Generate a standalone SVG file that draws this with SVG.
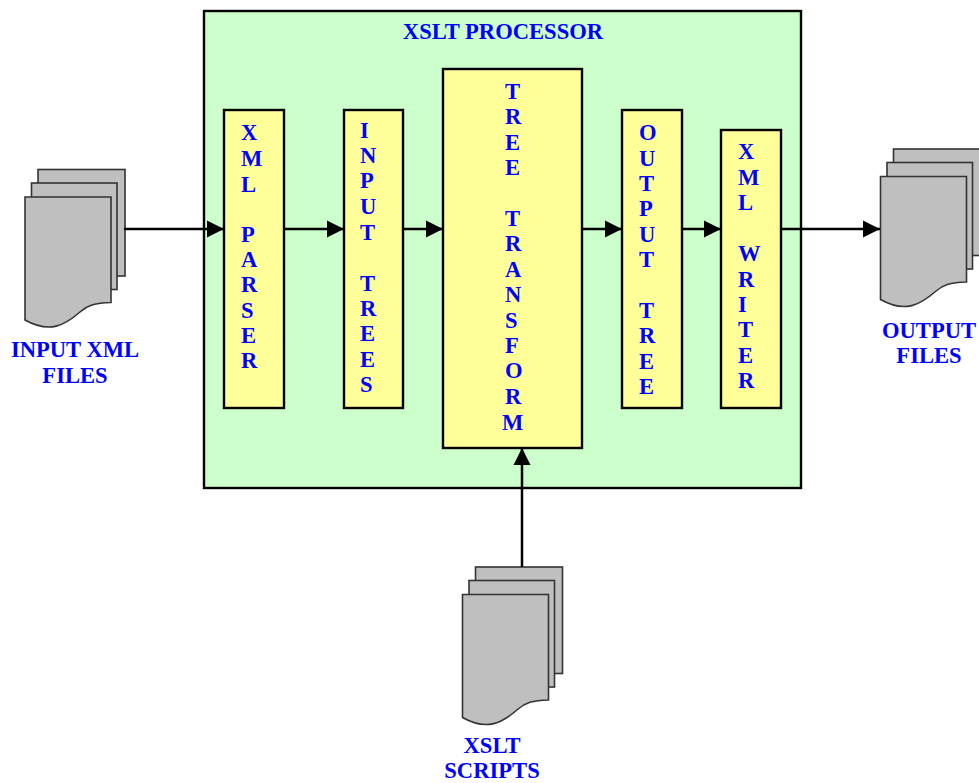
<svg xmlns="http://www.w3.org/2000/svg" width="979" height="783" viewBox="0 0 979 783">
<style>
.doc{fill:#bfbfbf;stroke:#333;stroke-width:1.6}
.box{fill:#ffff99;stroke:#000;stroke-width:2.4}
.t{font-family:"Liberation Serif",serif;font-weight:bold;font-size:22.6px;fill:#0000ff}
.m{text-anchor:middle}
.c{fill:none;stroke:#000;stroke-width:2.5}
</style>
<defs>
<marker id="a" markerUnits="userSpaceOnUse" markerWidth="18" markerHeight="18" refX="17" refY="9" orient="auto"><path d="M0 0.500L17 9L0 17.500Z" fill="#000"/></marker>
<g id="stack">
<rect class="doc" x="13" y="-27.500" width="87" height="106.500"/>
<rect class="doc" x="6.500" y="-14" width="85.500" height="106.500"/>
<path class="doc" d="M0 0H86V105.500C70 106 63 108 55 115C40 128 25 137 0 123Z"/>
</g>
</defs>
<g id="processor"><rect x="204" y="11" width="597" height="477" fill="#ccffcc" stroke="#000" stroke-width="2.4"/><text class="t m" x="503" y="39">XSLT PROCESSOR</text></g>
<g id="xml-parser"><rect class="box" x="224" y="110" width="60" height="298"/>
<text class="t"><tspan x="241" y="140">X</tspan><tspan x="241" y="166">M</tspan><tspan x="241" y="192">L</tspan><tspan x="241" y="242">P</tspan><tspan x="241" y="267">A</tspan><tspan x="241" y="292">R</tspan><tspan x="241" y="318">S</tspan><tspan x="241" y="343">E</tspan><tspan x="241" y="368">R</tspan></text></g>
<g id="input-trees"><rect class="box" x="344" y="110" width="59" height="298"/>
<text class="t"><tspan x="360" y="138">I</tspan><tspan x="360" y="163">N</tspan><tspan x="360" y="188">P</tspan><tspan x="360" y="214">U</tspan><tspan x="360" y="240">T</tspan><tspan x="360" y="291">T</tspan><tspan x="360" y="316">R</tspan><tspan x="360" y="341">E</tspan><tspan x="360" y="367">E</tspan><tspan x="360" y="392">S</tspan></text></g>
<g id="tree-transform"><rect class="box" x="443" y="69" width="139" height="379"/>
<text class="t"><tspan x="505" y="99">T</tspan><tspan x="505" y="124">R</tspan><tspan x="505" y="150">E</tspan><tspan x="505" y="175">E</tspan><tspan x="505" y="226">T</tspan><tspan x="505" y="251">R</tspan><tspan x="505" y="277">A</tspan><tspan x="505" y="302">N</tspan><tspan x="505" y="328">S</tspan><tspan x="505" y="353">F</tspan><tspan x="505" y="378">O</tspan><tspan x="505" y="404">R</tspan><tspan x="502" y="430">M</tspan></text></g>
<g id="output-tree"><rect class="box" x="622" y="110" width="60" height="298"/>
<text class="t"><tspan x="639" y="140">O</tspan><tspan x="639" y="166">U</tspan><tspan x="639" y="191">T</tspan><tspan x="639" y="216">P</tspan><tspan x="639" y="242">U</tspan><tspan x="639" y="267">T</tspan><tspan x="639" y="318">T</tspan><tspan x="639" y="343">R</tspan><tspan x="639" y="369">E</tspan><tspan x="639" y="394">E</tspan></text></g>
<g id="xml-writer"><rect class="box" x="721" y="130" width="60" height="278"/>
<text class="t"><tspan x="738" y="159">X</tspan><tspan x="738" y="185">M</tspan><tspan x="738" y="210">L</tspan><tspan x="738" y="261">W</tspan><tspan x="738" y="287">R</tspan><tspan x="738" y="312">I</tspan><tspan x="738" y="337">T</tspan><tspan x="738" y="363">E</tspan><tspan x="738" y="388">R</tspan></text></g>
<g id="input-files"><use href="#stack" x="25" y="197"/><text class="t m" x="75" y="357">INPUT XML</text><text class="t m" x="75" y="383">FILES</text></g>
<g id="xslt-scripts"><use href="#stack" x="462.500" y="594.500"/><text class="t m" x="492" y="753">XSLT</text><text class="t m" x="492" y="778">SCRIPTS</text></g>
<g id="output-files"><use href="#stack" x="880.500" y="176.500"/><text class="t m" x="929" y="338">OUTPUT</text><text class="t m" x="929" y="363">FILES</text></g>
<g id="connectors">
<path class="c" d="M124 229H224" marker-end="url(#a)"/>
<path class="c" d="M284 229H344" marker-end="url(#a)"/>
<path class="c" d="M403 229H443" marker-end="url(#a)"/>
<path class="c" d="M582 229H622" marker-end="url(#a)"/>
<path class="c" d="M682 229H721" marker-end="url(#a)"/>
<path class="c" d="M781 229H880" marker-end="url(#a)"/>
<path class="c" d="M522 567V448" marker-end="url(#a)"/>
</g>
</svg>
